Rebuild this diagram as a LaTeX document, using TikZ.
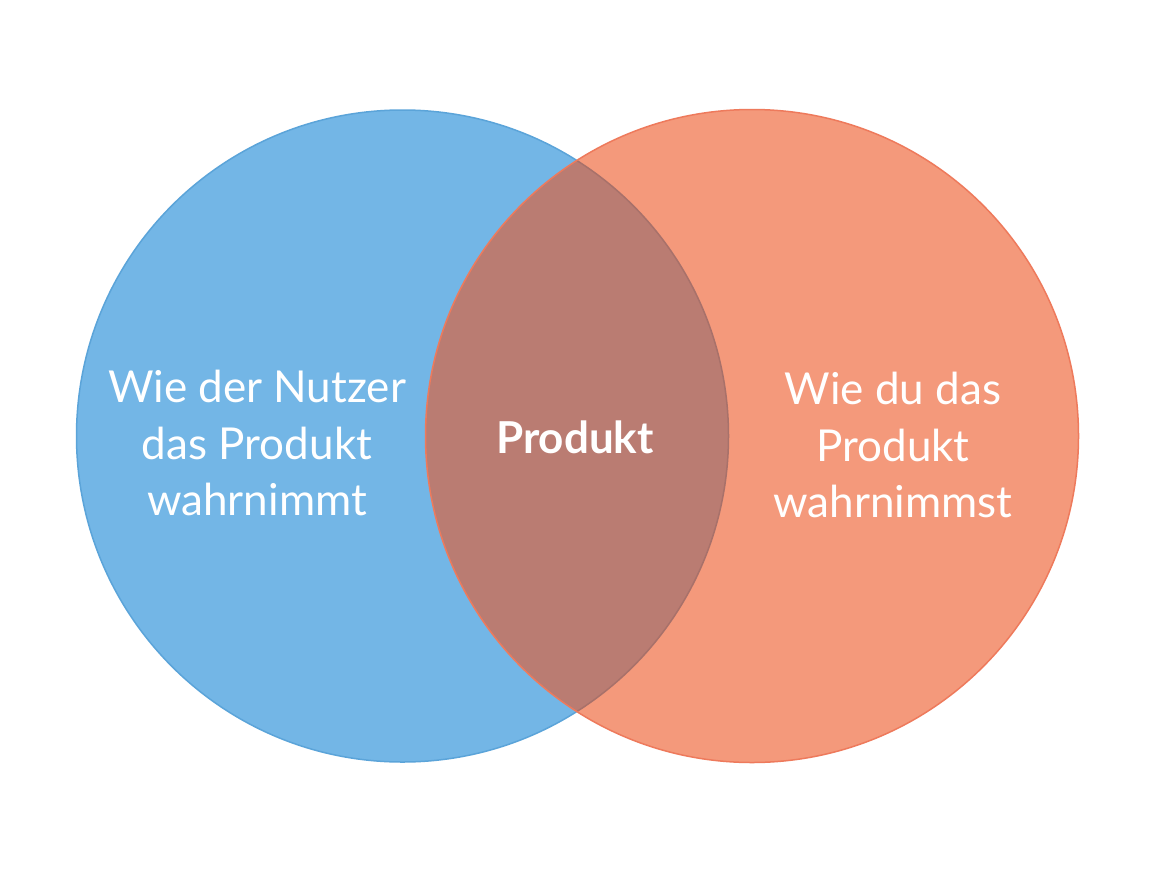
\documentclass[tikz,border=0pt]{standalone}
\usepackage{fontspec}
\setmainfont{Lato}
\definecolor{bluefill}{HTML}{73B6E6}
\definecolor{bluedraw}{HTML}{5BA4D9}
\definecolor{orfill}{HTML}{F4997B}
\definecolor{ordraw}{HTML}{EE7A5C}
\definecolor{mixfill}{HTML}{BA7C72}
\definecolor{mixdraw}{HTML}{A8716A}
\tikzset{
  lbl/.style={text=white, align=center, font=\fontsize{44}{56.5}\selectfont, inner sep=0pt},
  blbl/.style={text=white, align=center, font=\fontsize{44}{56.5}\selectfont\bfseries, inner sep=0pt}
}
\begin{document}
\begin{tikzpicture}[x=1pt,y=-1pt]
\useasboundingbox[fill=white] (0,0) rectangle (1166,892);
\coordinate (cl) at (402.5,436);
\coordinate (cr) at (752,436);
\fill[bluefill] (cl) circle[radius=326];
\draw[bluedraw, line width=1.5pt] (cl) circle[radius=326];
\fill[orfill] (cr) circle[radius=326.5];
\begin{scope}
  \clip (cl) circle[radius=326];
  \fill[mixfill] (cr) circle[radius=326.5];
\end{scope}
\begin{scope}
  \clip (cr) circle[radius=326.5];
  \draw[mixdraw, line width=1.5pt] (cl) circle[radius=326];
\end{scope}
\draw[ordraw, line width=1.5pt] (cr) circle[radius=326.5];
\node[lbl] (left) at (257,443) {Wie der Nutzer\\das Produkt\\wahrnimmt};
\node[blbl] (mid) at (575,437) {Produkt};
\node[lbl] (right) at (893,445) {Wie du das\\Produkt\\wahrnimmst};
\end{tikzpicture}
\end{document}
